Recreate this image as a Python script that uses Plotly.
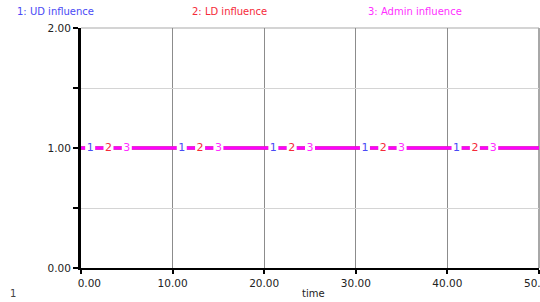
import numpy as np
import plotly.graph_objects as go

# ---- data ----
time = [0, 10, 20, 30, 40, 50]
ud_influence = [1.0, 1.0, 1.0, 1.0, 1.0, 1.0]
ld_influence = [1.0, 1.0, 1.0, 1.0, 1.0, 1.0]
admin_influence = [1.0, 1.0, 1.0, 1.0, 1.0, 1.0]

series_names = ["1: UD influence", "2: LD influence", "3: Admin influence"]
series_ids = ["1", "2", "3"]
label_times = [
    [1, 11, 21, 31, 41],
    [3, 13, 23, 33, 43],
    [5, 15, 25, 35, 45],
]
x_ticks = [0, 10, 20, 30, 40, 50]
x_ticktext = ["\u00a0\u00a0\u00a0\u00a0\u00a00.00", "10.00", "20.00", "30.00", "40.00", "50.00"]
y_ticks = [0, 0.5, 1, 1.5, 2]
y_ticktext = ["0.00", "", "1.00", "", "2.00"]

colors = ["#3a3af5", "#f5283c", "#ff00ff"]
label_colors = ["#4a4af5", "#f52a3a", "#ff30ff"]
FONT = "DejaVu Sans"

fig = go.Figure()
all_series = [ud_influence, ld_influence, admin_influence]
for vals, c, name in zip(all_series, colors, series_names):
    fig.add_trace(go.Scatter(x=time, y=vals, mode="lines",
                             line=dict(color=c, width=3), name=name,
                             showlegend=False, hoverinfo="skip"))

for vals, c, sid, lt in zip(all_series, label_colors, series_ids, label_times):
    ly = np.interp(lt, time, vals)
    fig.add_trace(go.Scatter(x=lt, y=ly, mode="markers+text",
                             marker=dict(symbol="square", color="white", size=10,
                                         line=dict(width=0)),
                             text=[sid] * len(lt), textposition="middle center",
                             textfont=dict(family=FONT, size=11, color=c),
                             showlegend=False, hoverinfo="skip", cliponaxis=False))

W, H = 540, 302
L, R, T, B = 81, 1, 28, 34
pw, ph = W - L - R, H - T - B

def px_x(px):
    return (px - L) / pw

def px_y(py):
    return (H - B - py) / ph

annotations = []
for name, c, xs in zip(series_names, label_colors, [15, 190, 366]):
    annotations.append(dict(text=name, x=px_x(xs), y=px_y(11), xref="paper", yref="paper",
                            xanchor="left", yanchor="middle", showarrow=False,
                            font=dict(family=FONT, size=10, color=c)))
annotations.append(dict(text="time", x=px_x(313), y=px_y(293), xref="paper", yref="paper",
                        xanchor="center", yanchor="middle", showarrow=False,
                        font=dict(family=FONT, size=10, color="#222")))
annotations.append(dict(text="1", x=px_x(13), y=px_y(293), xref="paper", yref="paper",
                        xanchor="center", yanchor="middle", showarrow=False,
                        font=dict(family=FONT, size=10, color="#444")))

shapes = [
    dict(type="line", xref="paper", yref="paper", x0=0, x1=1, y0=1, y1=1,
         line=dict(color="#d4d4d4", width=2), layer="below"),
    dict(type="line", xref="paper", yref="paper", x0=1, x1=1, y0=0, y1=1,
         line=dict(color="#a8a8a8", width=2), layer="below"),
]

fig.update_layout(
    width=W, height=H,
    margin=dict(l=L, r=R, t=T, b=B, autoexpand=False),
    paper_bgcolor="white", plot_bgcolor="white",
    showlegend=False,
    annotations=annotations,
    shapes=shapes,
    xaxis=dict(range=[0, 50], tickvals=x_ticks, ticktext=x_ticktext,
               showgrid=True, gridcolor="#8c8c8c", gridwidth=1,
               showline=True, linecolor="black", linewidth=2,
               ticks="outside", ticklen=4, tickwidth=2, tickcolor="black",
               tickfont=dict(family=FONT, size=10.5, color="#222"),
               ticklabeloverflow="allow", automargin=False,
               zeroline=False, fixedrange=True),
    yaxis=dict(range=[0, 2], tickvals=y_ticks, ticktext=y_ticktext,
               showgrid=True, gridcolor="#d4d4d4", gridwidth=1,
               showline=True, linecolor="black", linewidth=3,
               ticks="outside", ticklen=5, tickwidth=2, tickcolor="black",
               tickfont=dict(family=FONT, size=10.5, color="#222"),
               automargin=False,
               zeroline=False, fixedrange=True),
)

fig.write_html("out.html", config={"displayModeBar": False},
               post_script="document.body.style.margin='0';document.body.style.overflow='hidden';")
